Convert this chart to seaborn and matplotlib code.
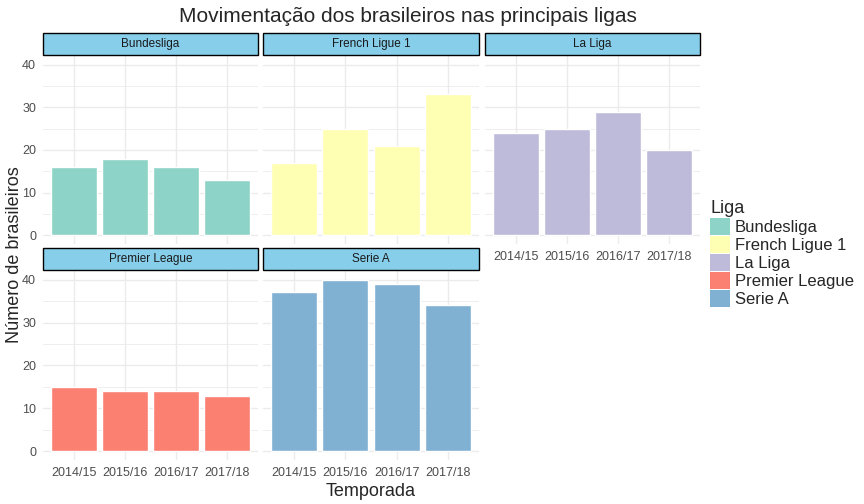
import pandas as pd
import matplotlib.pyplot as plt
import seaborn as sns
from matplotlib.patches import Patch, Rectangle

# Data
temporadas = ['2014/15', '2015/16', '2016/17', '2017/18']
ligas = ['Bundesliga', 'French Ligue 1', 'La Liga', 'Premier League', 'Serie A']
bundesliga = [16, 18, 16, 13]
ligue1 = [17, 25, 21, 33]
laliga = [24, 25, 29, 20]
premier = [15, 14, 14, 13]
seriea = [37, 40, 39, 34]
cores = ['#8DD3C7', '#FFFFB3', '#BEBADA', '#FB8072', '#80B1D3']

valores = [bundesliga, ligue1, laliga, premier, seriea]
df = pd.DataFrame([
    {'Liga': liga, 'Temporada': t, 'N': v}
    for liga, vals in zip(ligas, valores)
    for t, v in zip(temporadas, vals)
])

sns.set_style('white')
plt.rcParams['font.family'] = ['Liberation Sans', 'DejaVu Sans']

fig = plt.figure(figsize=(8.64, 5.04), dpi=100)
W, H = 864, 504

cols = [(43, 258), (263, 479), (485, 700)]
rows = [(56, 244), (271, 460)]
strip_h = 22

for i, liga in enumerate(ligas):
    r, c = divmod(i, 3)
    x0, x1 = cols[c]
    y0, y1 = rows[r]
    ax = fig.add_axes([x0 / W, 1 - y1 / H, (x1 - x0) / W, (y1 - y0) / H])
    sub = df[df['Liga'] == liga]
    sns.barplot(data=sub, x='Temporada', y='N', color=cores[i], ax=ax,
                width=0.9, saturation=1, order=temporadas)
    ax.set_xlim(-0.6, 3.6)
    ax.set_ylim(-2, 42)
    ax.set_yticks([0, 10, 20, 30, 40])
    ax.set_yticks([5, 15, 25, 35], minor=True)
    ax.grid(True, which='major', color='#EBEBEB', linewidth=1.0)
    ax.grid(True, which='minor', axis='y', color='#EBEBEB', linewidth=0.6)
    ax.set_axisbelow(True)
    for s in ax.spines.values():
        s.set_visible(False)
    ax.tick_params(length=0, labelsize=9, labelcolor='#4D4D4D', pad=5)
    ax.set_xlabel('')
    ax.set_ylabel('')
    if c != 0:
        ax.set_yticklabels([])
    if r == 0 and c != 2:
        ax.set_xticklabels([])
    # strip header
    sh = strip_h / (y1 - y0)
    ax.add_patch(Rectangle((0, 1.005), 1, sh, transform=ax.transAxes,
                           facecolor='#87CEEB', edgecolor='black',
                           linewidth=1, clip_on=False))
    ax.text(0.5, 1.005 + sh / 2, liga, transform=ax.transAxes,
            ha='center', va='center', fontsize=8.5, color='#1A1A1A')

fig.text(408 / W, 1 - 17 / H, 'Movimentação dos brasileiros nas principais ligas',
         ha='center', va='center', fontsize=15)
fig.text(371 / W, 1 - 492 / H, 'Temporada', ha='center', va='center', fontsize=13)
fig.text(15 / W, 1 - 255 / H, 'Número de brasileiros', ha='center', va='center',
         rotation=90, fontsize=13)

handles = [Patch(facecolor=cor, edgecolor='none', label=l) for cor, l in zip(cores, ligas)]
leg = fig.legend(handles=handles, title='Liga', loc='upper left',
                 bbox_to_anchor=(710 / W, 1 - 200 / H), frameon=False,
                 fontsize=12, title_fontsize=13, handlelength=1.2,
                 handleheight=1.2, handletextpad=0.3, labelspacing=0.05,
                 borderaxespad=0, borderpad=0)
leg._legend_box.align = 'left'

fig.savefig('out.png', dpi=100)
